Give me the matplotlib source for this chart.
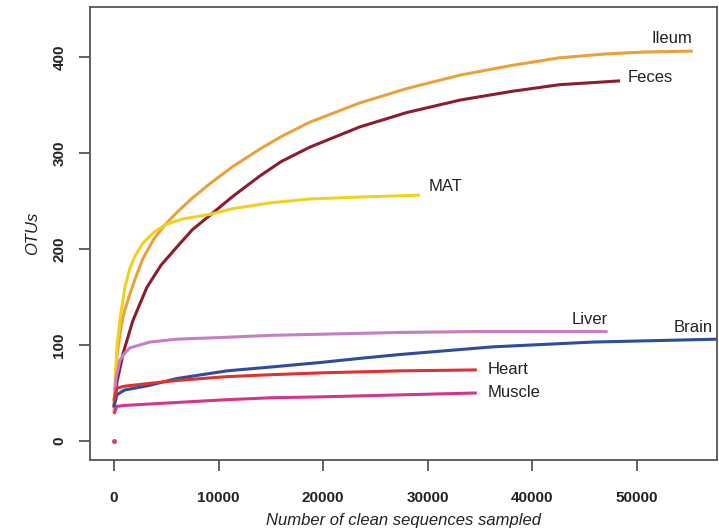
import matplotlib.pyplot as plt

# rarefaction curves
ileum_x = [0, 300, 700, 1000, 1500, 2000, 2770, 3800, 4880, 6020, 7500, 9180, 11400, 13960, 16000, 18740, 23500, 28000, 33100, 38000, 42600, 47000, 50600, 55350]
ileum_y = [30, 90, 120, 135, 152, 168, 190, 210, 225, 238, 253, 268, 286, 304, 317, 332, 352, 367, 381, 391, 399, 403, 405, 406]

feces_x = [0, 300, 900, 1800, 3150, 4500, 6020, 7500, 9180, 11400, 13960, 16000, 18740, 23500, 28000, 33100, 38000, 42600, 48400]
feces_y = [35, 62, 92, 125, 160, 183, 202, 220, 235, 255, 276, 291, 306, 327, 342, 355, 364, 371, 375]

mat_x = [0, 300, 600, 1050, 1530, 2000, 2770, 3800, 4880, 6500, 9180, 11400, 15000, 18740, 23500, 29250]
mat_y = [40, 100, 128, 160, 180, 192, 206, 217, 225, 231, 236, 242, 248, 252, 254, 256]

liver_x = [0, 200, 570, 1000, 1530, 3440, 6000, 10800, 15000, 27300, 35000, 47200]
liver_y = [35, 65, 84, 91, 97, 103, 106, 108, 110, 113, 114, 114]

brain_x = [0, 280, 1000, 3440, 6000, 10800, 15000, 20000, 23500, 27300, 36200, 45800, 57650]
brain_y = [35, 48, 53, 58, 65, 73, 77, 82, 86, 90, 98, 103, 106]

heart_x = [0, 280, 1000, 3440, 6000, 10800, 15000, 20000, 27300, 34700]
heart_y = [42, 55, 57, 60, 63, 67, 69, 71, 73, 74]

muscle_x = [0, 280, 1000, 3440, 10800, 15000, 20000, 27300, 34700]
muscle_y = [28, 36, 37, 38.5, 43, 45, 46, 48, 50]

series = [
    ("Ileum", ileum_x, ileum_y, "#E9A23B"),
    ("Feces", feces_x, feces_y, "#8C1D2E"),
    ("MAT", mat_x, mat_y, "#F1D11F"),
    ("Liver", liver_x, liver_y, "#C57FC2"),
    ("Brain", brain_x, brain_y, "#2E4D9C"),
    ("Heart", heart_x, heart_y, "#E0312F"),
    ("Muscle", muscle_x, muscle_y, "#D5348A"),
]

# label anchor (x, y, horizontal alignment)
labels = {
    "Ileum": (55300, 419, "right"),
    "Feces": (49100, 378, "left"),
    "MAT": (30100, 265, "left"),
    "Liver": (47200, 126, "right"),
    "Brain": (57300, 118, "right"),
    "Heart": (35750, 74, "left"),
    "Muscle": (35750, 50, "left"),
}

plt.rcParams['font.family'] = ['Liberation Sans', 'DejaVu Sans']

fig = plt.figure(figsize=(7.19, 5.32), dpi=100)
ax = fig.add_axes([0.125, 0.135, 0.872, 0.852])

for name, xs, ys, col in series:
    ax.plot(xs, ys, color=col, lw=2.2, solid_capstyle='butt')
    lx, ly, ha = labels[name]
    ax.text(lx, ly, name, ha=ha, va='center', fontsize=12, color='#222222')

ax.plot([0], [0], 'o', color='#D04060', ms=2.5)

ax.set_xlim(-2300, 57650)
ax.set_ylim(-20, 452)
ax.set_xticks([0, 10000, 20000, 30000, 40000, 50000])
ax.set_yticks([0, 100, 200, 300, 400])

for s in ax.spines.values():
    s.set_color('#555555')
    s.set_linewidth(1.3)
ax.tick_params(length=8, width=1.3, color='#555555', labelsize=11)
ax.tick_params(axis='x', pad=14)
ax.tick_params(axis='y', pad=9)
for t in ax.get_xticklabels() + ax.get_yticklabels():
    t.set_fontweight('bold')
    t.set_color('#222222')
for t in ax.get_yticklabels():
    t.set_rotation(90)
    t.set_va('center')

ax.set_xlabel('Number of clean sequences sampled', style='italic', fontsize=12, color='#222222', labelpad=6)
ax.set_ylabel('OTUs', style='italic', fontsize=12, color='#222222', labelpad=9)

fig.savefig('out.png', dpi=100)
